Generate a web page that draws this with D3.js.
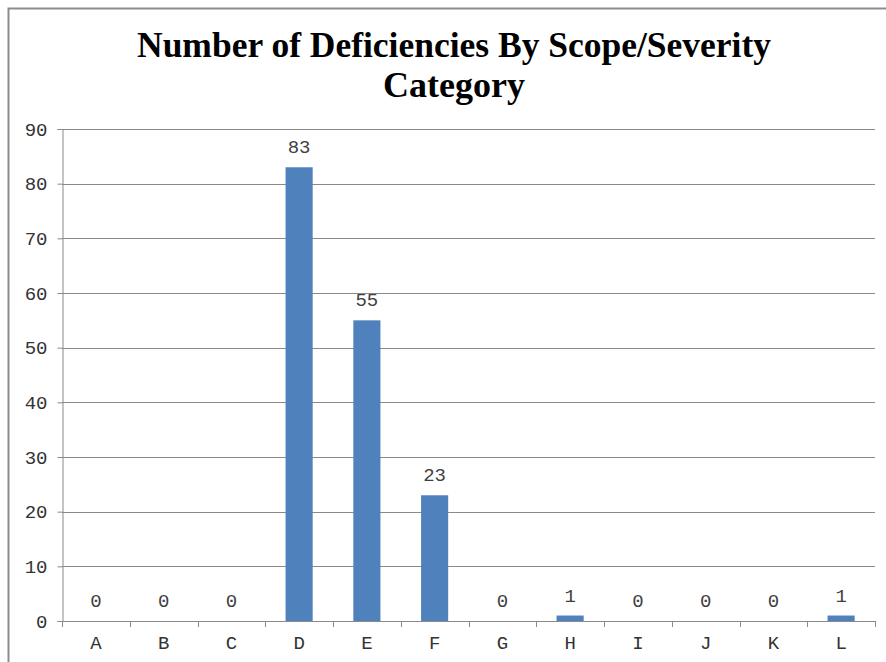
<!DOCTYPE html>
<html>
<head>
<meta charset="utf-8">
<script src="https://cdn.jsdelivr.net/npm/d3@7"></script>
<style>
  html, body { margin: 0; padding: 0; background: #fff; }
  svg { display: block; }
</style>
</head>
<body>
<svg id="chart" width="886" height="662"></svg>
<script>
// Scope/severity categories and deficiency counts
const categories = ["A", "B", "C", "D", "E", "F", "G", "H", "I", "J", "K", "L"];
const counts = [0, 0, 0, 83, 55, 23, 0, 1, 0, 0, 0, 1];
const yTicks = [0, 10, 20, 30, 40, 50, 60, 70, 80, 90];
const titleLines = ["Number of Deficiencies By Scope/Severity", "Category"];

const data = categories.map((c, i) => ({ cat: c, value: counts[i] }));

const svg = d3.select("#chart");
const W = 886, H = 662;
const plot = { left: 62, right: 875, top: 129, bottom: 621 };
const monoFont = "'Liberation Mono', 'Courier New', monospace";

// outer chart frame
svg.append("rect")
  .attr("x", 8.5).attr("y", 8.5)
  .attr("width", W + 10).attr("height", H + 10)
  .attr("fill", "#fff")
  .attr("stroke", "#8c8c8c").attr("stroke-width", 2);

// title, two centred lines
const title = svg.append("g")
  .attr("font-family", "'Liberation Serif', 'Times New Roman', serif")
  .attr("font-weight", "bold")
  .attr("font-size", 36)
  .attr("fill", "#000");
titleLines.forEach((line, i) => {
  const t = title.append("text")
    .attr("x", 454)
    .attr("y", 57 + i * 40)
    .attr("text-anchor", "middle")
    .text(line);
  if (i === 0) t.attr("textLength", 634).attr("lengthAdjust", "spacingAndGlyphs");
});

const x = d3.scaleBand()
  .domain(categories)
  .range([plot.left, plot.right])
  .paddingInner(0)
  .paddingOuter(0);

const y = d3.scaleLinear()
  .domain([0, 90])
  .range([plot.bottom, plot.top]);

// horizontal gridlines
svg.append("g")
  .selectAll("line")
  .data(yTicks.filter(t => t > 0))
  .join("line")
  .attr("x1", plot.left).attr("x2", plot.right)
  .attr("y1", d => Math.round(y(d)) + 0.5)
  .attr("y2", d => Math.round(y(d)) + 0.5)
  .attr("stroke", "#8a8a8a").attr("stroke-width", 1);

// bars
const barW = x.bandwidth() * 0.4;
svg.append("g")
  .selectAll("rect")
  .data(data.filter(d => d.value > 0))
  .join("rect")
  .attr("x", d => x(d.cat) + (x.bandwidth() - barW) / 2)
  .attr("y", d => y(d.value))
  .attr("width", barW)
  .attr("height", d => y(0) - y(d.value))
  .attr("fill", "#4f81bd");

// y axis
const yAxis = svg.append("g")
  .attr("transform", `translate(${plot.left + 0.5},0)`)
  .call(d3.axisLeft(y).tickValues(yTicks).tickSize(5).tickPadding(10));
yAxis.select(".domain").attr("stroke", "#8a8a8a");
yAxis.selectAll(".tick line").attr("stroke", "#8a8a8a");
yAxis.selectAll(".tick text")
  .attr("font-family", monoFont)
  .attr("font-size", 19)
  .attr("fill", "#333");

// x axis baseline and boundary ticks
const xAxisG = svg.append("g");
xAxisG.append("line")
  .attr("x1", plot.left).attr("x2", plot.right)
  .attr("y1", Math.round(y(0)) + 0.5).attr("y2", Math.round(y(0)) + 0.5)
  .attr("stroke", "#8a8a8a");
const bounds = categories.map(c => x(c)).concat([x.range()[1]]);
xAxisG.selectAll("line.bt")
  .data(bounds)
  .join("line")
  .attr("class", "bt")
  .attr("x1", d => Math.round(d) + 0.5).attr("x2", d => Math.round(d) + 0.5)
  .attr("y1", Math.round(y(0))).attr("y2", Math.round(y(0)) + 6)
  .attr("stroke", "#8a8a8a");
xAxisG.selectAll("text")
  .data(categories)
  .join("text")
  .attr("x", d => x(d) + x.bandwidth() / 2)
  .attr("y", 649)
  .attr("text-anchor", "middle")
  .attr("font-family", monoFont)
  .attr("font-size", 19)
  .attr("fill", "#333")
  .text(d => d);

// value labels above each bar
svg.append("g")
  .selectAll("text")
  .data(data)
  .join("text")
  .attr("x", d => x(d.cat) + x.bandwidth() / 2)
  .attr("y", d => y(d.value) - 14)
  .attr("text-anchor", "middle")
  .attr("font-family", monoFont)
  .attr("font-size", 19)
  .attr("fill", "#404040")
  .text(d => d.value);
</script>
</body>
</html>
